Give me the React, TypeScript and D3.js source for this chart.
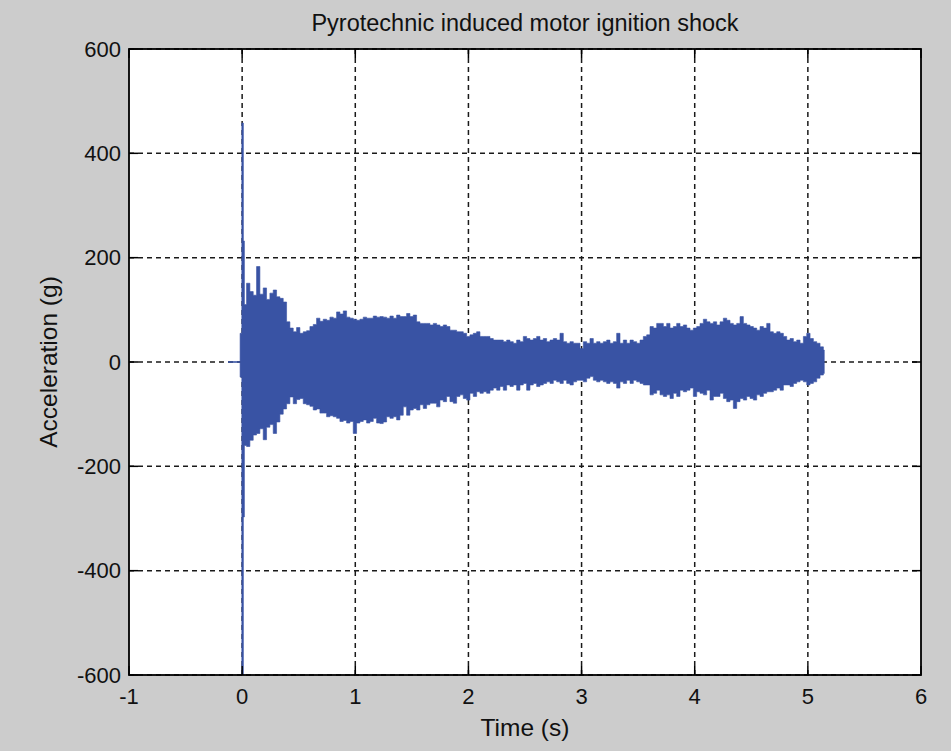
import React from "react";
import * as d3 from "d3";

const WIDTH = 951;
const HEIGHT = 751;
const MARGIN = { top: 49, right: 30, bottom: 76, left: 129 };

const TITLE = "Pyrotechnic induced motor ignition shock";
const X_LABEL = "Time (s)";
const Y_LABEL = "Acceleration (g)";

const xTicks = [-1, 0, 1, 2, 3, 4, 5, 6];
const yTicks = [-600, -400, -200, 0, 200, 400, 600];
const X_DOMAIN = [-1, 6];
const Y_DOMAIN = [-600, 600];

// Quiet record before ignition (g stays at zero)
const preTime = [-0.125, -0.018];
const preValue = [0, 0];

// Ignition transient: start time of each step and its peak/trough (g)
const burstTime = [-0.018, -0.003, 0.011, 0.02];
const burstHigh = [55, 458, 232, 110];
const burstLow = [-29, -640, -297, -160];

// Envelope of the ringing response, sampled every ENV_DT seconds from ENV_START
const ENV_START = 0.039;
const ENV_DT = 0.02947;
const ENV_END = 5.145;

const envHigh = [
  // 0.04 – 1.19 s
  151, 135, 128, 183, 130, 142, 120, 132, 138, 125, 122, 115, 77, 65, 58, 66, 55, 58, 60, 68,
  72, 84, 78, 82, 80, 86, 84, 96, 92, 98, 86, 84, 82, 80, 82, 86, 84, 84, 88, 86,
  // 1.22 – 2.51 s
  87, 86, 84, 88, 84, 90, 87, 87, 93, 87, 90, 77, 74, 74, 74, 71, 74, 71, 68, 71, 68, 61, 61,
  58, 58, 55, 49, 52, 55, 58, 49, 49, 49, 45, 42, 42, 42, 39, 42, 39, 36, 42, 39, 49, 45,
  // 2.54 – 3.84 s
  42, 45, 49, 42, 45, 39, 42, 45, 42, 55, 39, 36, 39, 36, 36, 26, 39, 36, 45, 36, 39, 36, 39,
  42, 36, 39, 55, 36, 42, 36, 42, 39, 36, 42, 49, 52, 68, 65, 74, 74, 68, 74, 65, 68, 74,
  // 3.87 – 5.14 s
  68, 71, 65, 61, 65, 68, 74, 82, 77, 74, 77, 71, 77, 84, 80, 74, 71, 74, 87, 74, 71, 68,
  65, 61, 68, 65, 74, 58, 55, 58, 55, 49, 42, 45, 39, 42, 36, 49, 55, 45, 39, 36, 29, 23,
];

const envLow = [
  // 0.04 – 1.19 s
  -162, -150, -140, -137, -128, -149, -125, -120, -137, -115, -100, -90, -80, -67, -80, -72,
  -70, -80, -82, -85, -92, -90, -98, -98, -105, -103, -105, -108, -114, -112, -117, -114,
  -137, -117, -114, -111, -117, -114, -108, -117,
  // 1.22 – 2.51 s
  -118, -115, -105, -108, -105, -111, -102, -86, -102, -92, -89, -92, -82, -89, -82, -79, -79,
  -86, -73, -76, -66, -76, -79, -66, -63, -70, -73, -60, -66, -57, -60, -57, -60, -54, -50,
  -54, -47, -54, -44, -47, -44, -54, -44, -41, -54,
  // 2.54 – 3.84 s
  -44, -41, -47, -44, -41, -38, -41, -35, -38, -41, -35, -41, -44, -38, -35, -35, -38, -31,
  -28, -35, -38, -35, -38, -41, -38, -41, -50, -38, -41, -35, -41, -35, -38, -41, -44, -44,
  -63, -60, -54, -63, -66, -63, -70, -60, -66,
  // 3.87 – 5.14 s
  -54, -57, -54, -50, -66, -57, -60, -63, -54, -73, -66, -66, -60, -70, -76, -73, -89, -76,
  -70, -73, -66, -70, -73, -63, -66, -60, -57, -57, -54, -50, -54, -44, -44, -47, -41, -38,
  -35, -38, -44, -41, -38, -31, -25, -22,
];

const FONT = "'Liberation Sans', Arial, sans-serif";
const SIGNAL = "#3953a4";

type Sample = { t: number; hi: number; lo: number };

export default function App() {
  const innerW = WIDTH - MARGIN.left - MARGIN.right;
  const innerH = HEIGHT - MARGIN.top - MARGIN.bottom;

  const x = d3.scaleLinear().domain(X_DOMAIN).range([0, innerW]);
  const y = d3.scaleLinear().domain(Y_DOMAIN).range([innerH, 0]);

  const samples: Sample[] = [];
  burstTime.forEach((t, i) => samples.push({ t, hi: burstHigh[i], lo: burstLow[i] }));
  envHigh.forEach((hi, i) => samples.push({ t: ENV_START + i * ENV_DT, hi, lo: envLow[i] }));
  samples.push({ t: ENV_END, hi: envHigh[envHigh.length - 1], lo: envLow[envLow.length - 1] });

  const area = d3
    .area<Sample>()
    .x((d) => x(d.t))
    .y0((d) => y(d.lo))
    .y1((d) => y(d.hi))
    .curve(d3.curveStepAfter);

  const pre = d3
    .line<number>()
    .x((t) => x(t))
    .y((_, i) => y(preValue[i]));

  const TICK = 9;

  return (
    <div style={{ position: "fixed", left: 0, top: 0 }}>
      <svg width={WIDTH} height={HEIGHT} style={{ display: "block" }} fontFamily={FONT}>
        <rect width={WIDTH} height={HEIGHT} fill="#cccccc" />
        <text
          x={MARGIN.left + innerW / 2}
          y={23}
          textAnchor="middle"
          dominantBaseline="central"
          fontSize={23.5}
          fill="#111"
        >
          {TITLE}
        </text>
        <g transform={`translate(${MARGIN.left},${MARGIN.top})`}>
          <defs>
            <clipPath id="plot-clip">
              <rect width={innerW} height={innerH} />
            </clipPath>
          </defs>
          <rect width={innerW} height={innerH} fill="#ffffff" />
          {/* dashed grid */}
          <g stroke="#1a1a1a" strokeWidth={1.5} strokeDasharray="5,4">
            {xTicks.slice(1, -1).map((t) => (
              <line key={`gx${t}`} x1={x(t)} x2={x(t)} y1={0} y2={innerH} />
            ))}
            {yTicks.slice(1, -1).map((v) => (
              <line key={`gy${v}`} x1={0} x2={innerW} y1={y(v)} y2={y(v)} />
            ))}
            <line x1={0} x2={innerW} y1={0} y2={0} />
            <line x1={0} x2={innerW} y1={innerH} y2={innerH} />
          </g>
          {/* acceleration record */}
          <g clipPath="url(#plot-clip)">
            <path d={pre(preTime) ?? ""} fill="none" stroke={SIGNAL} strokeWidth={1.6} />
            <path d={area(samples) ?? ""} fill={SIGNAL} stroke={SIGNAL} strokeWidth={0.6} />
          </g>
          {/* axes box and inward ticks */}
          <rect width={innerW} height={innerH} fill="none" stroke="#000" strokeWidth={1.8} />
          <g stroke="#000" strokeWidth={1.5}>
            {xTicks.map((t) => (
              <g key={`tx${t}`}>
                <line x1={x(t)} x2={x(t)} y1={innerH} y2={innerH - TICK} />
                <line x1={x(t)} x2={x(t)} y1={0} y2={TICK} />
              </g>
            ))}
            {yTicks.map((v) => (
              <g key={`ty${v}`}>
                <line x1={0} x2={TICK} y1={y(v)} y2={y(v)} />
                <line x1={innerW} x2={innerW - TICK} y1={y(v)} y2={y(v)} />
              </g>
            ))}
          </g>
          <g fontSize={22} fill="#111">
            {xTicks.map((t) => (
              <text key={`lx${t}`} x={x(t)} y={innerH + 21} textAnchor="middle" dominantBaseline="central">
                {t}
              </text>
            ))}
            {yTicks.map((v) => (
              <text key={`ly${v}`} x={-8} y={y(v)} textAnchor="end" dominantBaseline="central">
                {v}
              </text>
            ))}
          </g>
          <text
            x={innerW / 2}
            y={innerH + 52}
            textAnchor="middle"
            dominantBaseline="central"
            fontSize={24.5}
            fill="#111"
          >
            {X_LABEL}
          </text>
          <text
            transform={`translate(${-81},${innerH / 2}) rotate(-90)`}
            textAnchor="middle"
            dominantBaseline="central"
            fontSize={24.5}
            fill="#111"
          >
            {Y_LABEL}
          </text>
        </g>
      </svg>
    </div>
  );
}
